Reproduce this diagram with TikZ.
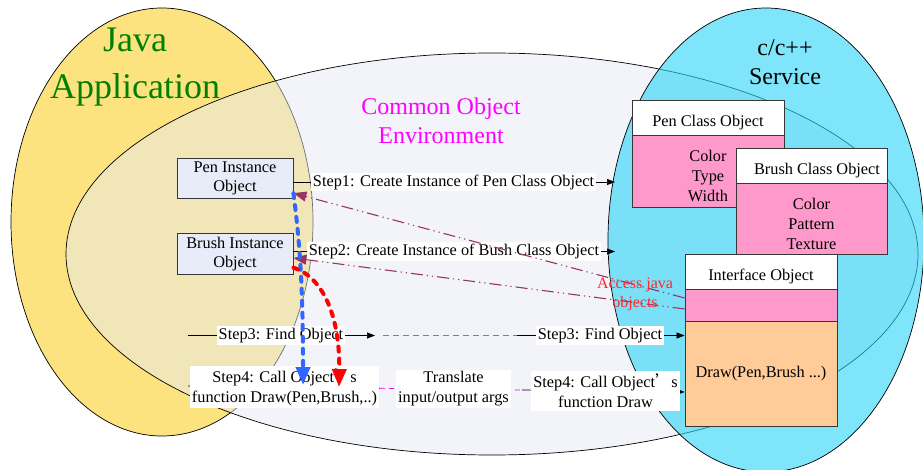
\documentclass[tikz,border=0pt]{standalone}
\usepackage{fontspec}
\setmainfont{Liberation Serif}
\newfontfamily\cjk{Noto Sans CJK SC}
\usetikzlibrary{arrows.meta}

\definecolor{javafill}{RGB}{253,227,128}
\definecolor{envfill}{RGB}{228,234,245}
\definecolor{cfill}{RGB}{43,212,248}
\definecolor{instfill}{RGB}{232,236,248}
\definecolor{attrpink}{RGB}{255,153,204}
\definecolor{codeorange}{RGB}{255,204,153}
\definecolor{linkpurple}{RGB}{153,51,102}
\definecolor{jgreen}{RGB}{0,128,0}
\definecolor{blueflow}{RGB}{51,102,255}
\definecolor{accessred}{RGB}{255,40,40}
\definecolor{envmagenta}{RGB}{255,0,255}
\definecolor{flowred}{RGB}{255,0,0}
\definecolor{edge}{RGB}{55,55,55}

\begin{document}
\begin{tikzpicture}[x=1pt,y=-1pt,
  txt/.style={font=\fontsize{16.3}{20}\selectfont, inner sep=0pt, align=center},
  instbox/.style={draw=edge, line width=0.8pt, fill=instfill, minimum width=116pt,
    minimum height=40.5pt, inner sep=0pt, align=center, font=\fontsize{16.3}{19}\selectfont},
  hdrbox/.style={draw=edge, line width=0.8pt, fill=white, minimum height=35pt, inner sep=0pt},
  bodybox/.style={draw=edge, line width=0.8pt, inner sep=0pt},
  steplabel/.style={fill=white, inner sep=2pt, align=center, font=\fontsize{16.3}{20}\selectfont},
  flow/.style={line width=0.7pt, -{Triangle[length=8pt,width=6pt]}},
  javalink/.style={linkpurple, line width=1.1pt,
    dash pattern=on 12pt off 4pt on 1.2pt off 4pt on 1.2pt off 4pt,
    -{Triangle[length=13pt,width=10pt]}},
  callflow/.style={line width=4pt, line cap=round, dash pattern=on 5pt off 7pt,
    -{Triangle[length=18pt,width=14pt]}},
]
\useasboundingbox (0,0) rectangle (923,470);
\fill[white] (0,0) rectangle (923,470);

% the three environments
\draw[line width=0.7pt, fill=javafill] (162,222) ellipse [x radius=151pt, y radius=214pt];
\draw[line width=0.7pt, fill=envfill, fill opacity=0.48] (492,254) ellipse [x radius=426pt, y radius=201pt];
\draw[line width=0.7pt, fill=cfill, fill opacity=0.6] (766,240) ellipse [x radius=158pt, y radius=232pt];

\node[font=\fontsize{36}{47}\selectfont, text=jgreen, align=center, inner sep=0pt] (javatitle) at (135,67) {Java\\Application};
\node[font=\fontsize{24}{29}\selectfont, text=envmagenta, align=center, inner sep=0pt] (envtitle) at (441,121) {Common Object\\Environment};
\node[font=\fontsize{24}{29}\selectfont, align=center, inner sep=0pt] (ctitle) at (785,62) {c/c++\\Service};

% Java side instances
\node[instbox] (pen) at (235,178.5) {Pen Instance\\Object};
\node[instbox] (brush) at (235,254) {Brush Instance\\Object};

% native class objects
\node[hdrbox, minimum width=152pt] (penhdr) at (708,117.5) {};
\node[bodybox, fill=attrpink, minimum width=152pt, minimum height=72pt] (penbody) at (708,171) {};
\node[txt] (penhdrT) at (708,122.5) {Pen Class Object};
\node[txt] (penbodyT) at (708,176) {Color\\Type\\Width};

\node[hdrbox, minimum width=151pt] (brushhdr) at (811.5,165.5) {};
\node[bodybox, fill=attrpink, minimum width=151pt, minimum height=71pt] (brushbody) at (811.5,218.5) {};
\node[txt] (brushhdrT) at (817,170.5) {Brush Class Object};
\node[txt] (brushbodyT) at (811.5,223.5) {Color\\Pattern\\Texture};

\node[hdrbox, minimum width=152pt] (ifhdr) at (761,271.5) {};
\node[bodybox, fill=attrpink, minimum width=152pt, minimum height=32pt] (ifpink) at (761,305) {};
\node[bodybox, fill=codeorange, minimum width=152pt, minimum height=105pt] (iforange) at (761,373.5) {};
\node[txt] (ifhdrT) at (761,276.5) {Interface Object};
\node[txt] (iforangeT) at (761,373.5) {Draw(Pen,Brush ...)};

% step 1 and 2
\coordinate (s1end) at (615,182);
\coordinate (s2end) at (615,251.5);
\draw[flow] (pen.east |- s1end) -- (s1end);
\draw[flow] (brush.east |- s2end) -- (s2end);
\node[steplabel] (s1lab) at (453.5,182) {Step1: Create Instance of Pen Class Object};
\node[steplabel] (s2lab) at (454,251.5) {Step2: Create Instance of Bush Class Object};

% step 3
\coordinate (s3a) at (188,335.5);
\coordinate (s3b) at (375,335.5);
\coordinate (s3c) at (383,335.5);
\coordinate (s3d) at (517,335.5);
\draw[flow] (s3a) -- (s3b);
\draw[gray, line width=0.7pt, dash pattern=on 6pt off 4pt] (s3c) -- (s3d);
\draw[flow] (s3d) -- (iforange.west |- s3d);
\node[steplabel] (s3lab) at (281,335.5) {Step3: Find Object};
\node[steplabel] (s3rlab) at (600,335.5) {Step3: Find Object};

% step 4
\coordinate (s4a) at (188,386);
\coordinate (s4b) at (380,388.3);
\coordinate (s4c) at (522,390);
\draw[line width=0.7pt] (s4a) -- (s4b);
\draw[envmagenta, line width=0.7pt, dash pattern=on 5pt off 4pt] (s4b) -- (s4c);
\draw[flow] (s4c) -- (iforange.west |- 0,392);
\node[steplabel] (trans) at (453.5,389) {Translate\\input/output args};
\node[steplabel] (s4lab) at (284.5,387) {Step4: Call Object{\cjk ’}s\\function Draw(Pen,Brush,..)};
\node[steplabel, inner ysep=3pt] (s4rlab) at (605.5,391) {Step4: Call Object{\cjk ’}s\\function Draw};

% native side reaching back into java objects
\draw[javalink] ([yshift=7pt]ifpink.west) -- ([yshift=6pt]pen.south east);
\draw[javalink] ([yshift=-4pt]ifpink.west) -- ([yshift=-4pt]brush.east);
\node[font=\fontsize{16}{19}\selectfont, text=accessred, align=center, inner sep=0pt] (access) at (635,294.5) {Access java\\objects};

% calls from java into the object draw function
\draw[callflow, blueflow] ([yshift=6pt]pen.south east) .. controls (301,250) and (303,300) .. (303,385);
\draw[callflow, flowred] ([yshift=7pt]brush.south east) .. controls (325,278) and (340,320) .. (339,387);
\end{tikzpicture}
\end{document}
